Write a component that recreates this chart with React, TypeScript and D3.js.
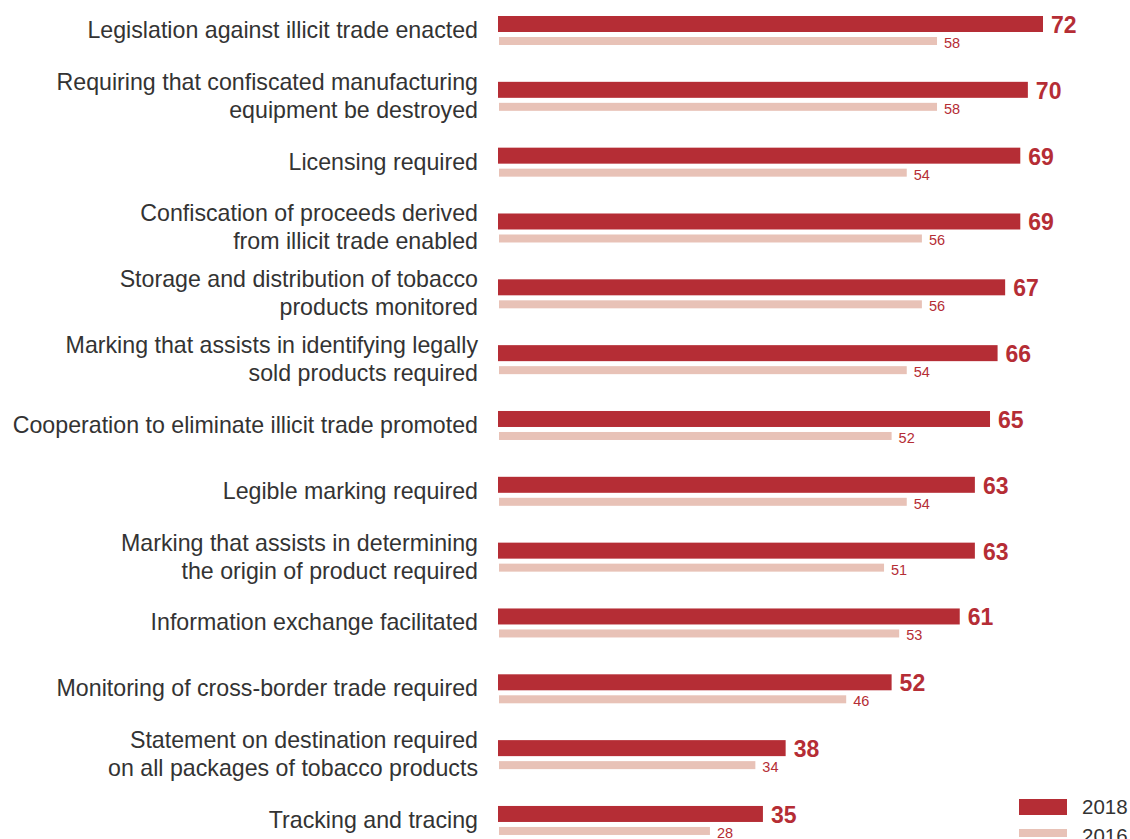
import React from "react";
import * as d3 from "d3";

const categories = [
  "Legislation against illicit trade enacted",
  "Requiring that confiscated manufacturing\nequipment be destroyed",
  "Licensing required",
  "Confiscation of proceeds derived\nfrom illicit trade enabled",
  "Storage and distribution of tobacco\nproducts monitored",
  "Marking that assists in identifying legally\nsold products required",
  "Cooperation to eliminate illicit trade promoted",
  "Legible marking required",
  "Marking that assists in determining\nthe origin of product required",
  "Information exchange facilitated",
  "Monitoring of cross-border trade required",
  "Statement on destination required\non all packages of tobacco products",
  "Tracking and tracing",
];
const values2018 = [72, 70, 69, 69, 67, 66, 65, 63, 63, 61, 52, 38, 35];
const values2016 = [58, 58, 54, 56, 56, 54, 52, 54, 51, 53, 46, 34, 28];
const seriesNames = ["2018", "2016"];

const DARK = "#B52D35";
const LIGHT = "#E8C2B7";
const TEXT = "#333333";
const FONT = "'Liberation Sans', Arial, sans-serif";

export default function App() {
  const width = 1130;
  const height = 839;

  const x = d3.scaleLinear().domain([0, 72]).range([498, 1043]);
  const y = d3
    .scaleBand<string>()
    .domain(categories)
    .range([16, 16 + 13 * 65.83])
    .paddingInner(0)
    .paddingOuter(0);

  const darkH = 16;
  const lightH = 8;
  const lightOff = 21;

  return (
    <svg
      width={width}
      height={height}
      viewBox={`0 0 ${width} ${height}`}
      style={{ position: "absolute", left: 0, top: 0, background: "#fff" }}
    >
      {categories.map((cat, i) => {
        const top = y(cat) || 0;
        const center = top + 14.5;
        const lines = cat.split("\n");
        return (
          <g key={cat}>
            <text
              x={478}
              textAnchor="end"
              fontFamily={FONT}
              fontSize={23.2}
              fill={TEXT}
            >
              {lines.map((ln, j) => (
                <tspan key={j} x={478} y={center - (lines.length - 1) * 14 + 7.5 + j * 28}>
                  {ln}
                </tspan>
              ))}
            </text>
            <rect x={x(0)} y={top} width={x(values2018[i]) - x(0)} height={darkH} fill={DARK} />
            <rect
              x={x(0) + 1}
              y={top + lightOff}
              width={x(values2016[i]) - x(0) - 1}
              height={lightH}
              fill={LIGHT}
            />
            <text
              x={x(values2018[i]) + 8}
              y={top + 17}
              fontFamily={FONT}
              fontWeight="bold"
              fontSize={23}
              fill={DARK}
            >
              {values2018[i]}
            </text>
            <text
              x={x(values2016[i]) + 7}
              y={top + 32}
              fontFamily={FONT}
              fontSize={14.5}
              fill={DARK}
            >
              {values2016[i]}
            </text>
          </g>
        );
      })}

      {/* legend */}
      <rect x={1019} y={799} width={48} height={16} fill={DARK} />
      <rect x={1019} y={829} width={48} height={8} fill={LIGHT} />
      <text x={1082} y={814} fontFamily={FONT} fontSize={20.5} fill={TEXT}>
        {seriesNames[0]}
      </text>
      <text x={1082} y={843} fontFamily={FONT} fontSize={20.5} fill={TEXT}>
        {seriesNames[1]}
      </text>
    </svg>
  );
}
